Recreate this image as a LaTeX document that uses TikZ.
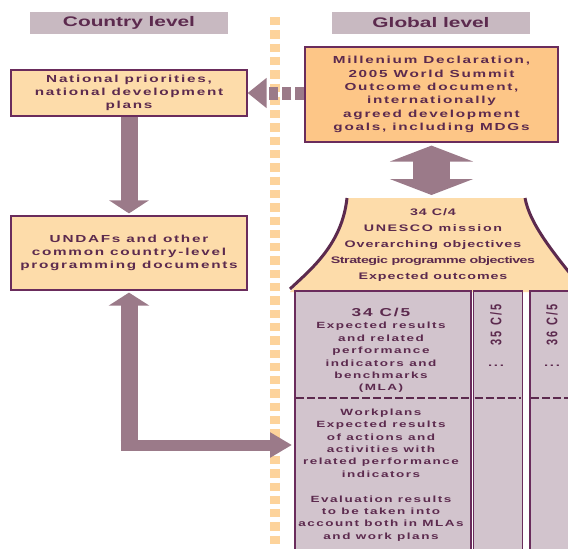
\documentclass[tikz,border=0pt]{standalone}
\usepackage{fontspec}
\setmainfont{Liberation Sans}[FakeStretch=1.5,LetterSpace=17]
\newfontfamily\hdrfont{Liberation Sans}[FakeStretch=1.5]
\newfontfamily\cfourfont{Liberation Sans}[FakeStretch=1.5,LetterSpace=10]
\newfontfamily\rotfont{Liberation Sans}[LetterSpace=20]
\usetikzlibrary{arrows.meta}
\definecolor{hdrfill}{HTML}{C8B9C1}
\definecolor{plum}{HTML}{5C2A4E}
\definecolor{boxline}{HTML}{6A2C5C}
\definecolor{mauve}{HTML}{9B7A89}
\definecolor{peach}{HTML}{FDDCAA}
\definecolor{apricot}{HTML}{FDC687}
\definecolor{lilac}{HTML}{D2C4CD}
\definecolor{dots}{HTML}{FDD39B}

\begin{document}
\begin{tikzpicture}[x=1pt, y=-1pt,
        hdr/.style = {fill=hdrfill, text=plum, inner sep=0pt,
                      minimum width=198pt, minimum height=22pt,
                      font=\hdrfont\bfseries\fontsize{13.9}{15}\selectfont},
        box/.style = {draw=boxline, line width=1.2pt, text=plum,
                      align=center, inner sep=0pt,
                      font=\bfseries\fontsize{10.2}{13.3}\selectfont},
        col/.style = {draw=boxline, line width=1.6pt, fill=lilac,
                      anchor=north west, inner sep=0pt, minimum height=280pt},
        txt/.style = {text=plum, align=center, inner sep=0pt,
                      font=\bfseries\fontsize{9}{12.4}\selectfont},
        arr/.style = {draw=mauve, line width=17pt},
       side/.style = {draw=plum, line width=3pt}
                                ]
        \useasboundingbox (0,0) rectangle (568,549);
        % divider
        \draw[dots, line width=10pt, dash pattern=on 8.3pt off 5pt]
            (275,17) -- (275,560);

        % headers
        \node[hdr] (country) at (129,23) {Country level};
        \node[hdr] (global)  at (431,23) {Global level};

        % country side
        \node[box, fill=peach, minimum width=236pt, minimum height=46pt]
            (natl) at (129,93) {National priorities,\\national development\\plans};
        \node[box, fill=peach, minimum width=236pt, minimum height=74pt]
            (undaf) at (129,253) {UNDAFs and other\\common country-level\\programming documents};

        % global side
        \node[box, fill=apricot, minimum width=253pt, minimum height=95pt]
            (mdg) at (431.5,94.5) {Millenium Declaration,\\2005 World Summit\\Outcome document,\\internationally\\agreed development\\goals, including MDGs};

        \fill[peach] (347,198) -- (525,198)
            .. controls (530,225) and (555,255) .. (585,292)
            -- (290,292) .. controls (310,270) and (342,245) .. (347,198) -- cycle;
        \draw[side] (347,198) .. controls (342,245) and (310,270) .. (290,289);
        \draw[side] (525,198) .. controls (530,225) and (555,255) .. (585,292);
        \coordinate (c4top) at (431.5,198);
        \node[txt, font=\cfourfont\bfseries\fontsize{9.5}{16}\selectfont] (c4) at (433,245.5)
            {34 C/4\\{\rmfamily UNESCO mission}\\Overarching objectives\\
             {\addfontfeatures{LetterSpace=-5}Strategic programme objectives}\\Expected outcomes};

        % C/5 columns
        \node[col, minimum width=176pt] (mla) at (294,290) {};
        \node[col, minimum width=49pt]  (c35) at (472.5,290) {};
        \node[col, minimum width=60pt]  (c36) at (529,290) {};
        \foreach \c in {mla,c35,c36}
            \draw[plum, line width=2pt, dash pattern=on 8pt off 3pt]
                ([xshift=2pt]\c.west |- 0,398) -- ([xshift=-2pt]\c.east |- 0,398);

        \node[txt] (mlatxt) at (381,350.5)
            {{\fontsize{11.5}{13}\selectfont 34 C/5}\\Expected results\\and related\\performance\\indicators and\\benchmarks\\(MLA)};
        \node[txt] (wptxt) at (381,475)
            {Workplans\\Expected results\\of actions and\\activities with\\related performance\\indicators\\[12.4pt]
             Evaluation results\\to be taken into\\account both in MLAs\\and work plans};
        \node[txt, rotate=90, yscale=1.4, font=\rotfont\bfseries\fontsize{11}{12}\selectfont]
            (t35) at (496,325) {35 C/5};
        \node[txt, rotate=90, yscale=1.4, font=\rotfont\bfseries\fontsize{11}{12}\selectfont]
            (t36) at (552,325) {36 C/5};
        \node[txt, font=\bfseries\fontsize{10}{12}\selectfont] (d35) at (496,366) {...};
        \node[txt, font=\bfseries\fontsize{10}{12}\selectfont] (d36) at (552,366) {...};

        % arrows
        \draw[arr, -{Triangle[width=39pt,length=13pt]}, shorten >=2pt]
            (natl) -- (undaf);
        \draw[arr, line width=13pt, dash pattern=on 9pt off 4pt,
              -{Triangle[width=29pt,length=19pt]}]
            (mdg.west |- natl) -- (natl);
        \draw[arr, line width=37pt, {Triangle[width=83pt,length=16pt]}-{Triangle[width=83pt,length=16pt]},
              shorten <=3pt, shorten >=3pt]
            (mdg) -- (c4top);
        \coordinate (wp) at (294,445);
        \coordinate (bend) at (undaf.south |- wp);
        \draw[arr, {Triangle[width=40pt,length=13pt]}-, shorten <=2pt]
            (undaf) -- ([yshift=-5.5pt]bend);
        \draw[arr, line width=11pt, -{Triangle[width=24pt,length=22pt]}, shorten >=2pt]
            ([xshift=-8.5pt]bend) -- (wp);
    \end{tikzpicture}
\end{document}
